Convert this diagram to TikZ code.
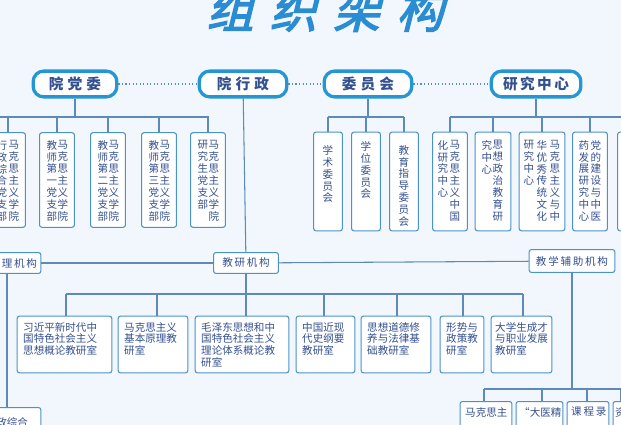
\documentclass[tikz,border=0pt]{standalone}
\usepackage{fontspec}
\setmainfont{Noto Sans CJK SC}
\newfontfamily\titlefont[FakeSlant=0.25,FakeBold=3]{Noto Sans CJK SC}
\definecolor{bg}{HTML}{F1F7FC}
\definecolor{txt}{HTML}{33508F}
\definecolor{bd}{HTML}{4A92C8}
\definecolor{ln}{HTML}{5C8AB9}
\definecolor{pillc}{HTML}{2596D4}
\definecolor{ttl}{HTML}{2A8CD2}
\begin{document}
\begin{tikzpicture}[x=0.03cm,y=-0.03cm,
  pill/.style={draw=pillc,line width=2.8pt,fill=white,rounded corners=9pt,
    font=\fontsize{12.5}{13}\selectfont\bfseries,text=txt,inner sep=0pt},
  boxc/.style={draw=bd,line width=0.9pt,fill=white,rounded corners=2pt,inner sep=0pt},
  vcol/.style={font=\fontsize{9}{10.2}\selectfont,text=txt,align=center,anchor=north,inner sep=0pt,text width=10pt},
  hbox/.style={font=\fontsize{9}{10}\selectfont,text=txt,align=left,anchor=north west,inner sep=0pt},
  lab/.style={draw=bd,line width=0.9pt,fill=white,rounded corners=2pt,font=\fontsize{9}{10}\selectfont,text=txt,inner sep=0pt},
  conn/.style={draw=ln,line width=0.9pt},
  dots/.style={draw=ln,line width=1pt,dotted}]
\useasboundingbox[fill=bg] (0,0) rectangle (621,425);
% title
\node[font=\titlefont\fontsize{40}{40}\selectfont,text=ttl] (title) at (325,10) {组\hspace{14pt}织\hspace{14pt}架\hspace{14pt}构};
% top pills
\node[pill,minimum width=84*0.85pt,minimum height=22pt] (dw) at (75,84) {院\;党\;委};
\node[pill,minimum width=88*0.85pt,minimum height=22pt] (xz) at (243,84) {院\;行\;政};
\node[pill,minimum width=88*0.85pt,minimum height=22pt] (wy) at (368,84) {委\;员\;会};
\node[pill,minimum width=90*0.85pt,minimum height=22pt] (yj) at (536,84) {研\,究\,中\,心};
\draw[dots] (dw) -- (xz); \draw[dots] (xz) -- (wy); \draw[dots] (wy) -- (yj);
% party branches
\coordinate (pb) at (75,117);
\draw[conn] (dw) -- (pb); \draw[conn] (0,117) -- (209,117);
\foreach \n/\c in {p1/8,p2/57,p3/108,p4/159,p5/208}{
  \node[boxc,minimum width=35*0.85pt,minimum height=95*0.85pt] (\n) at (\c,180) {};
  \draw[conn] (\c,117) -- (\n.north);
}
\node[vcol] (p1r) at (14,140) {马\\克\\思\\主\\义\\学\\院};
\node[vcol] (p1l) at (2,140) {行\\政\\综\\合\\党\\支\\部};
\node[vcol] (p2r) at (63,140) {马\\克\\思\\主\\义\\学\\院};
\node[vcol] (p2l) at (52,140) {教\\师\\第\\一\\党\\支\\部};
\node[vcol] (p3r) at (114,140) {马\\克\\思\\主\\义\\学\\院};
\node[vcol] (p3l) at (103,140) {教\\师\\第\\二\\党\\支\\部};
\node[vcol] (p4r) at (165,140) {马\\克\\思\\主\\义\\学\\院};
\node[vcol] (p4l) at (154,140) {教\\师\\第\\三\\党\\支\\部};
\node[vcol] (p5r) at (214,140) {马\\克\\思\\主\\义\\学\\院};
\node[vcol] (p5l) at (203,140) {研\\究\\生\\党\\支\\部};
% committees
\coordinate (wb) at (368,117);
\draw[conn] (wy) -- (wb); \draw[conn] (328,117) -- (404,117);
\foreach \n/\c in {w1/328,w2/366,w3/404}{
  \node[boxc,minimum width=29*0.85pt,minimum height=99*0.85pt] (\n) at (\c,181.5) {};
  \draw[conn] (\c,117) -- (\n.north);
}
\node[vcol] at (328,145) {学\\术\\委\\员\\会};
\node[vcol] at (366,141) {学\\位\\委\\员\\会};
\node[vcol] at (404,145) {教\\育\\指\\导\\委\\员\\会};
% research centers
\coordinate (rb) at (536,117);
\draw[conn] (yj) -- (rb); \draw[conn] (450,117) -- (621,117);
\foreach \n/\c/\w in {r1/450/35,r2/493/36,r3/542/46,r4/590/35,r5/635/35}{
  \node[boxc,minimum width=\w*0.85pt,minimum height=99*0.85pt] (\n) at (\c,181.5) {};
  \draw[conn] (\c,117) -- (\n.north);
}
\node[vcol] at (455,140) {马\\克\\思\\主\\义\\中\\国};
\node[vcol] at (443,140) {化\\研\\究\\中\\心};
\node[vcol] at (498,140) {思\\想\\政\\治\\教\\育\\研};
\node[vcol] at (487,140) {究\\中\\心};
\node[vcol] at (555,140) {马\\克\\思\\主\\义\\与\\中};
\node[vcol] at (542,140) {华\\优\\秀\\传\\统\\文\\化};
\node[vcol] at (529,140) {研\\究\\中\\心};
\node[vcol] at (596,140) {党\\的\\建\\设\\与\\中\\医};
\node[vcol] at (584,140) {药\\发\\展\\研\\究\\中\\心};
% middle row
\node[lab,minimum width=65*0.85pt,minimum height=21*0.85pt] (jy) at (246,263) {教\,研\,机\,构};
\node[lab,minimum width=86*0.85pt,minimum height=23*0.85pt] (fz) at (572,261) {教\,学\,辅\,助\,机\,构};
\node[lab,minimum width=80*0.85pt,minimum height=21*0.85pt] (gl) at (1,263) {行\,政\,管\,理\,机\,构};
\draw[conn] (xz) -- (jy);
\draw[conn] (gl) -- (jy); \draw[conn] (jy) -- (fz);
% teaching & research offices
\coordinate (jb) at (246,294);
\draw[conn] (jy) -- (jb); \draw[conn] (66,294) -- (523,294);
\foreach \n/\c/\w/\d in {t1/64.5/95/66,t2/153/70/157,t3/242/94/246,t4/325.5/59/324,t5/396/70/397,t6/462/44/463,t7/521.5/61/523}{
  \node[boxc,minimum width=\w*0.85pt,minimum height=57*0.85pt] (\n) at (\c,344.5) {};
  \draw[conn] (\d,294) -- (\d,316);
}
\node[hbox] at (23,322) {习近平新时代中\\国特色社会主义\\思想概论教研室};
\node[hbox] at (124,322) {马克思主义\\基本原理教\\研室};
\node[hbox] at (201,322) {毛泽东思想和中\\国特色社会主义\\理论体系概论教\\研室};
\node[hbox] at (302,322) {中国近现\\代史纲要\\教研室};
\node[hbox] at (367,322) {思想道德修\\养与法律基\\础教研室};
\node[hbox] at (446,322) {形势与\\政策教\\研室};
\node[hbox] at (495,322) {大学生成才\\与职业发展\\教研室};
% left bottom
\node[lab,minimum width=80*0.85pt,minimum height=30*0.85pt,anchor=north] (zh) at (1,407) {\hspace{10pt}行政综合};
\draw[conn] (7,274) -- (7,407);
% auxiliary
\coordinate (fb) at (572,389);
\draw[conn] (fz) -- (fb); \draw[conn] (484,389) -- (621,389);
\foreach \n/\c/\w/\d in {a1/486/52/484,a2/539.5/47/542,a3/588/42/587,a4/634/42/621}{
  \node[boxc,minimum width=\w*0.85pt,minimum height=40*0.85pt,anchor=north] (\n) at (\c,401) {};
  \draw[conn] (\d,389) -- (\d,401);
}
\node[hbox] at (465,407) {马克思主};
\node[hbox] at (519,407) {“大医精};
\node[hbox] at (571,407) {课\,程\,录};
\node[hbox] at (615,407) {资};
\end{tikzpicture}
\end{document}
